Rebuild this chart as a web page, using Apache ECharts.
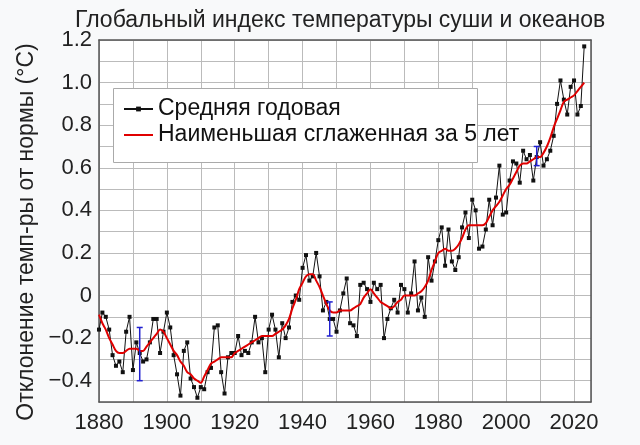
<!DOCTYPE html>
<html lang="ru">
<head>
<meta charset="UTF-8">
<title>Глобальный индекс температуры</title>
<script src="https://cdn.jsdelivr.net/npm/echarts@6/dist/echarts.min.js"></script>
<style>
  html, body { margin: 0; padding: 0; background: #f8f9fa; }
  #main { width: 640px; height: 445px; }
</style>
</head>
<body>
<div id="main"></div>
<script>
// годы наблюдений
var years = [];
for (var y = 1880; y <= 2023; y++) years.push(y);

// средняя годовая аномалия (°C)
var annual = [
  -0.16,-0.08,-0.10,-0.16,-0.28,-0.33,-0.31,-0.36,-0.17,-0.10,
  -0.35,-0.22,-0.27,-0.31,-0.30,-0.22,-0.11,-0.11,-0.27,-0.17,
  -0.08,-0.15,-0.28,-0.37,-0.47,-0.26,-0.22,-0.39,-0.43,-0.48,
  -0.43,-0.44,-0.36,-0.34,-0.15,-0.14,-0.36,-0.46,-0.29,-0.27,
  -0.27,-0.19,-0.28,-0.26,-0.27,-0.22,-0.10,-0.22,-0.20,-0.36,
  -0.16,-0.09,-0.16,-0.29,-0.13,-0.20,-0.15,-0.03,-0.00,-0.02,
   0.13, 0.19, 0.07, 0.09, 0.20, 0.09,-0.07,-0.03,-0.11,-0.11,
  -0.17,-0.07, 0.01, 0.08,-0.13,-0.14,-0.19, 0.05, 0.06, 0.03,
  -0.03, 0.06, 0.03, 0.05,-0.20,-0.11,-0.06,-0.02,-0.08, 0.05,
   0.03,-0.08, 0.01, 0.16,-0.07,-0.01,-0.10, 0.18, 0.07, 0.16,
   0.26, 0.32, 0.14, 0.31, 0.16, 0.12, 0.18, 0.32, 0.39, 0.27,
   0.45, 0.40, 0.22, 0.23, 0.31, 0.45, 0.33, 0.46, 0.61, 0.38,
   0.39, 0.54, 0.63, 0.62, 0.53, 0.68, 0.64, 0.66, 0.54, 0.65,
   0.72, 0.61, 0.64, 0.68, 0.75, 0.90, 1.01, 0.92, 0.85, 0.98,
   1.01, 0.85, 0.89, 1.17
];

// сглаженная кривая (lowess, 5 лет)
var smooth = [
  -0.09,-0.13,-0.16,-0.20,-0.23,-0.26,-0.27,-0.27,-0.26,-0.25,
  -0.25,-0.25,-0.26,-0.26,-0.24,-0.22,-0.20,-0.18,-0.16,-0.17,
  -0.20,-0.23,-0.26,-0.28,-0.31,-0.33,-0.36,-0.37,-0.39,-0.40,
  -0.41,-0.38,-0.35,-0.32,-0.31,-0.30,-0.29,-0.29,-0.29,-0.29,
  -0.27,-0.26,-0.25,-0.24,-0.23,-0.22,-0.21,-0.20,-0.19,-0.19,
  -0.19,-0.19,-0.18,-0.17,-0.16,-0.14,-0.11,-0.06,-0.02, 0.03,
   0.06, 0.09, 0.10, 0.10, 0.07, 0.04, 0.00,-0.04,-0.07,-0.08,
  -0.08,-0.07,-0.07,-0.07,-0.07,-0.06,-0.05,-0.04,-0.01, 0.01,
   0.03, 0.01,-0.01,-0.03,-0.04,-0.05,-0.06,-0.05,-0.03,-0.02,
   0.00, 0.00, 0.00, 0.00, 0.01, 0.02, 0.04, 0.07, 0.12, 0.16,
   0.20, 0.21, 0.22, 0.21, 0.21, 0.22, 0.24, 0.27, 0.31, 0.33,
   0.33, 0.33, 0.33, 0.33, 0.34, 0.37, 0.40, 0.42, 0.44, 0.47,
   0.50, 0.52, 0.55, 0.58, 0.61, 0.62, 0.62, 0.63, 0.64, 0.65,
   0.65, 0.67, 0.70, 0.74, 0.79, 0.83, 0.87, 0.91, 0.92, 0.93,
   0.94, 0.96, 0.98, 1.00
];

// погрешность: год, нижняя и верхняя граница
var errYears = [1892, 1948, 2009];
var errLow   = [-0.40, -0.19, 0.61];
var errHigh  = [-0.15, -0.03, 0.70];

var names = ['Средняя годовая', 'Наименьшая сглаженная за 5 лет'];

var font = "'Liberation Sans', Arial, sans-serif";

var annualData = years.map(function (yr, i) { return [yr, annual[i]]; });
var smoothData = years.map(function (yr, i) { return [yr, smooth[i]]; });
var errData = errYears.map(function (yr, i) { return [yr, errLow[i], errHigh[i]]; });

var chart = echarts.init(document.getElementById('main'));

chart.setOption({
    backgroundColor: '#f8f9fa',
    animation: false,
    textStyle: { fontFamily: font },
    title: {
        text: 'Глобальный индекс температуры суши и океанов',
        left: 70,
        top: 4,
        textStyle: { fontFamily: font, fontSize: 23, fontWeight: 'normal', color: '#222' }
    },
    graphic: [{
        type: 'rect',
        left: 113, top: 88,
        shape: { width: 364, height: 74 },
        style: { fill: '#fff', stroke: '#aaa', lineWidth: 1 },
        z: 50
    }],
    legend: {
        data: [
            { name: names[0] },
            { name: names[1], itemStyle: { opacity: 0 } }
        ],
        orient: 'vertical',
        left: 113,
        top: 88,
        padding: [8, 0, 0, 10],
        itemGap: 0,
        itemWidth: 29,
        itemHeight: 6,
        z: 60,
        textStyle: { fontFamily: font, fontSize: 23, color: '#111', lineHeight: 26 }
    },
    grid: {
        left: 99, right: 49, top: 40, bottom: 43,
        show: true, backgroundColor: '#fff', borderWidth: 0
    },
    xAxis: [{
        type: 'value',
        min: 1880, max: 2025, interval: 10,
        axisLine: { show: true, onZero: false, lineStyle: { color: '#555', width: 1.5 } },
        axisTick: { show: false },
        axisLabel: {
            fontFamily: font, fontSize: 22, color: '#222', margin: 10,
            formatter: function (v) { return v % 20 === 0 ? String(v) : ''; }
        },
        splitLine: { show: true, lineStyle: { color: '#bbb', width: 1 } }
    }, {
        type: 'value', position: 'top',
        min: 1880, max: 2025,
        axisLine: { show: true, onZero: false, lineStyle: { color: '#555', width: 1.5 } },
        axisTick: { show: false }, axisLabel: { show: false }, splitLine: { show: false }
    }],
    yAxis: [{
        type: 'value',
        min: -0.5, max: 1.2, interval: 0.1,
        name: 'Отклонение темп-ры от нормы (°C)',
        nameLocation: 'middle',
        nameGap: 58,
        nameTextStyle: { fontFamily: font, fontSize: 23, color: '#222', padding: [0, 22, 0, 0] },
        axisLine: { show: true, onZero: false, lineStyle: { color: '#555', width: 1.5 } },
        axisTick: { show: false },
        axisLabel: {
            fontFamily: font, fontSize: 22, color: '#222', margin: 7,
            formatter: function (v) {
                var k = Math.round(v * 10);
                if (k % 2 !== 0) return '';
                if (k === 0) return '0';
                return (k < 0 ? '\u2212' : '') + Math.abs(k / 10).toFixed(1);
            }
        },
        splitLine: { show: true, lineStyle: { color: '#bbb', width: 1 } }
    }, {
        type: 'value', position: 'right',
        min: -0.5, max: 1.2,
        axisLine: { show: true, onZero: false, lineStyle: { color: '#555', width: 1.5 } },
        axisTick: { show: false }, axisLabel: { show: false }, splitLine: { show: false }
    }],
    series: [{
        name: names[0],
        type: 'line',
        data: annualData,
        symbol: 'rect',
        symbolSize: 4,
        lineStyle: { color: '#111', width: 1 },
        itemStyle: { color: '#111' },
        z: 3
    }, {
        name: names[1],
        type: 'line',
        data: smoothData,
        symbol: 'none',
        smooth: 0.3,
        lineStyle: { color: '#e00000', width: 2 },
        itemStyle: { color: '#e00000' },
        z: 4
    }, {
        type: 'custom',
        data: errData,
        z: 5,
        renderItem: function (params, api) {
            var lo = api.coord([api.value(0), api.value(1)]);
            var hi = api.coord([api.value(0), api.value(2)]);
            var c = 3;
            var st = { stroke: '#2020d0', lineWidth: 1.5 };
            return {
                type: 'group',
                children: [
                    { type: 'line', shape: { x1: lo[0], y1: lo[1], x2: hi[0], y2: hi[1] }, style: st },
                    { type: 'line', shape: { x1: lo[0] - c, y1: lo[1], x2: lo[0] + c, y2: lo[1] }, style: st },
                    { type: 'line', shape: { x1: hi[0] - c, y1: hi[1], x2: hi[0] + c, y2: hi[1] }, style: st }
                ]
            };
        }
    }]
});
</script>
</body>
</html>
